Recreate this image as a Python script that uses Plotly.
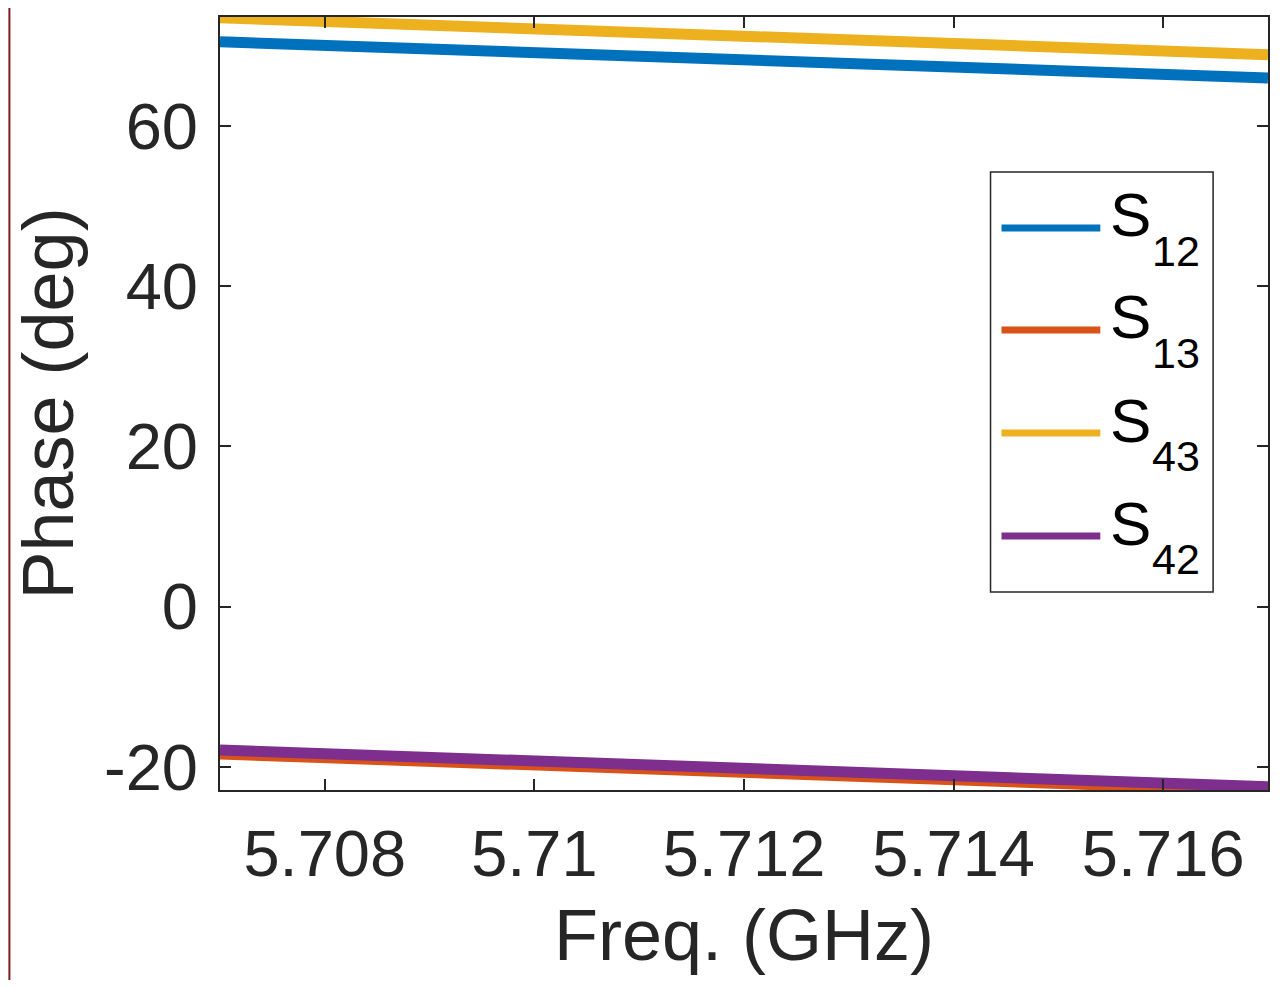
import plotly.graph_objects as go

# ---- data ----
freq = [5.707, 5.709, 5.711, 5.713, 5.715, 5.717]
s12 = [70.5, 69.7, 68.8, 67.8, 66.9, 66.0]
s13 = [-18.4, -19.3, -20.2, -21.2, -22.1, -23.0]
s43 = [73.5, 72.6, 71.7, 70.7, 69.8, 68.9]
s42 = [-17.9, -18.8, -19.8, -20.7, -21.6, -22.5]

names = ["12", "13", "43", "42"]
series = [s12, s13, s43, s42]
colors = ["#0072BD", "#D95319", "#EDB120", "#7E2F8E"]

x_ticks = [5.708, 5.71, 5.712, 5.714, 5.716]
x_ticktext = ["5.708", "5.71", "5.712", "5.714", "5.716"]
y_ticks = [-20, 0, 20, 40, 60]
y_ticktext = ["-20", "0", "20", "40", "60"]
x_title = "Freq. (GHz)"
y_title = "Phase (deg)"

FONT = "Liberation Sans, Arial, Helvetica, sans-serif"
TXT = "#262626"

# page has an 8px body margin; plot area in page pixels:
OFF = 8
W, H = 1265, 972
L, R, T, B = 220, 1270, 17, 790


def px(x):
    return (x - L) / (R - L)


def py(y):
    return (B - y) / (B - T)


fig = go.Figure()
for nm, ys, c in zip(names, series, colors):
    fig.add_trace(go.Scatter(x=freq, y=ys, mode="lines", name="S" + nm,
                             line=dict(color=c, width=11), showlegend=False))

axis_common = dict(showline=True, linecolor=TXT, linewidth=2, mirror="ticks",
                   ticks="inside", ticklen=11, tickwidth=2, tickcolor=TXT,
                   showgrid=False, zeroline=False,
                   tickfont=dict(family=FONT, size=65, color=TXT))

fig.update_layout(
    width=W, height=H,
    margin=dict(l=L - OFF, r=OFF + W - R, t=T - OFF, b=OFF + H - B, pad=0),
    plot_bgcolor="white", paper_bgcolor="white",
    xaxis=dict(range=[5.707, 5.717], tickvals=x_ticks, ticktext=x_ticktext,
               ticklabelstandoff=6, **axis_common),
    yaxis=dict(range=[-22.9, 73.6], tickvals=y_ticks, ticktext=y_ticktext,
               ticklabelstandoff=7,
               title=dict(text=y_title, font=dict(family=FONT, size=72, color=TXT),
                          standoff=10),
               **axis_common),
)

# x-axis title as an annotation (axis title is constrained by the margin)
fig.add_annotation(xref="paper", yref="paper", x=0.5, y=py(935),
                   xanchor="center", yanchor="middle", showarrow=False,
                   text=x_title, font=dict(family=FONT, size=72, color=TXT))

# dark red border at the left edge of the figure
fig.add_shape(type="rect", xref="paper", yref="paper",
              x0=px(OFF), x1=px(OFF + 2), y0=py(OFF + H), y1=py(OFF),
              fillcolor="#7a1a1a", line=dict(width=0), layer="above")

# legend box drawn manually (MATLAB style: long line samples)
fig.add_shape(type="rect", xref="paper", yref="paper",
              x0=px(992), x1=px(1215), y0=py(592), y1=py(172),
              fillcolor="white", line=dict(color=TXT, width=1.5), layer="above")
row_y = [228, 330, 433, 536]
for nm, c, yy in zip(names, colors, row_y):
    fig.add_shape(type="line", xref="paper", yref="paper",
                  x0=px(1003), x1=px(1102), y0=py(yy), y1=py(yy),
                  line=dict(color=c, width=7), layer="above")
    fig.add_annotation(xref="paper", yref="paper", x=px(1110), y=py(yy - 13),
                       xanchor="left", yanchor="middle", showarrow=False,
                       text="S", font=dict(family=FONT, size=62, color="black"))
    fig.add_annotation(xref="paper", yref="paper", x=px(1152), y=py(yy + 23),
                       xanchor="left", yanchor="middle", showarrow=False,
                       text=nm, font=dict(family=FONT, size=43, color="black"))

fig.write_html("out.html")
